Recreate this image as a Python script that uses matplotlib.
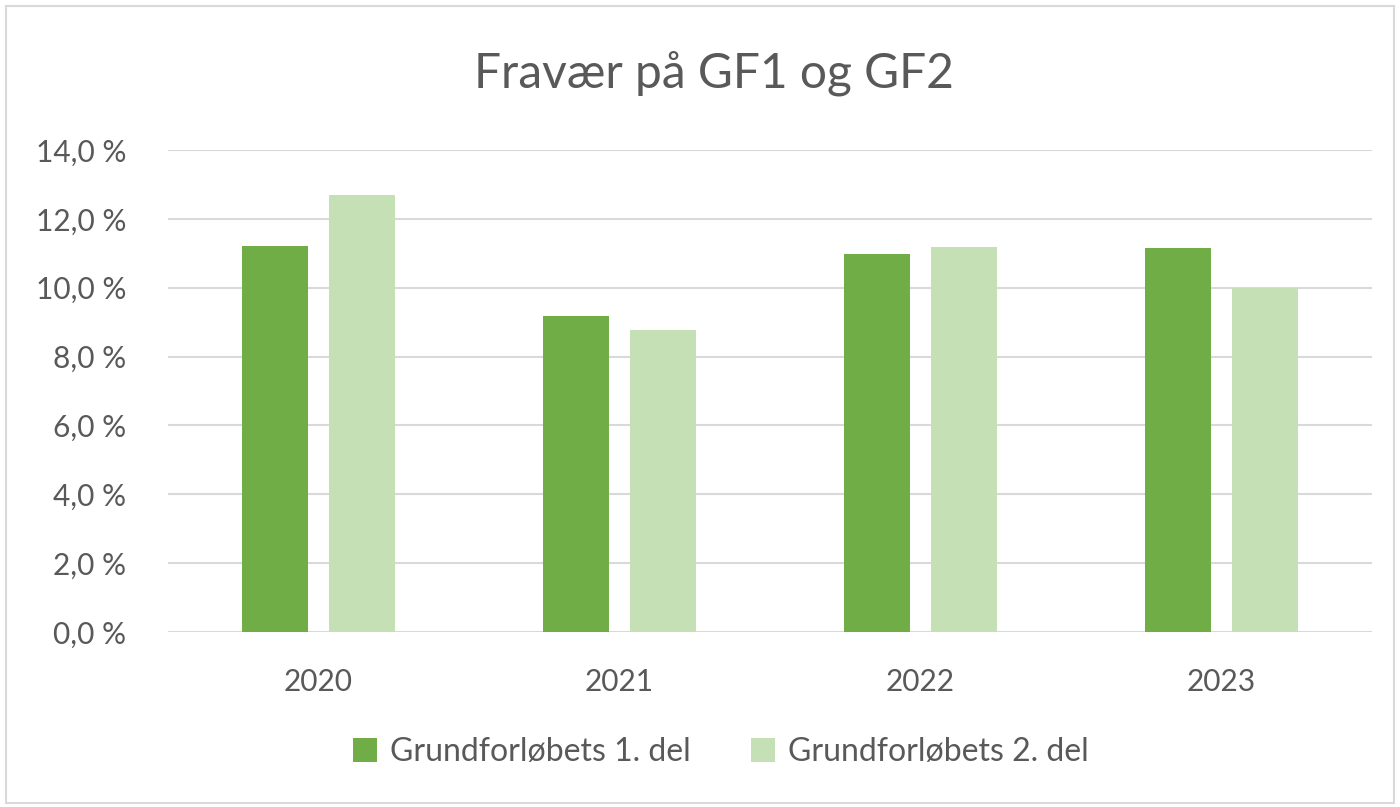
import matplotlib.pyplot as plt
import numpy as np
from matplotlib.patches import Rectangle

years = ["2020", "2021", "2022", "2023"]
del1 = [11.21, 9.18, 10.98, 11.15]
del2 = [12.69, 8.77, 11.18, 9.99]
series_names = ["Grundforløbets 1. del", "Grundforløbets 2. del"]

plt.rcParams['font.family'] = ['Lato', 'DejaVu Sans']
txt = '#595959'

fig = plt.figure(figsize=(14, 8.07), dpi=100)
ax = fig.add_axes([168 / 1400, 1 - 632 / 807, (1372 - 168) / 1400, (632 - 150) / 807])

x = np.arange(len(years))
w = 0.219
off = 0.143
ax.bar(x - off, del1, w, color='#70AD47', label=series_names[0], zorder=3)
ax.bar(x + off, del2, w, color='#C5E0B4', label=series_names[1], zorder=3)

ax.set_xlim(-0.5, 3.5)
ax.set_ylim(0, 14)
ax.set_yticks(np.arange(0, 15, 2))
ax.set_yticklabels([f"{v:.1f} %".replace('.', ',') for v in np.arange(0, 15, 2)])
ax.set_xticks(x)
ax.set_xticklabels(years)
ax.grid(axis='y', color='#D9D9D9', linewidth=1.5, zorder=0)
for s in ax.spines.values():
    s.set_visible(False)
ax.tick_params(length=0, labelsize=21.5, colors=txt)
ax.tick_params(axis='y', pad=30)
ax.tick_params(axis='x', pad=26)

fig.text(714 / 1400, 1 - 73 / 807, "Fravær på GF1 og GF2", ha='center', va='center',
         fontsize=34.5, color=txt)

leg = fig.legend(loc='center', bbox_to_anchor=(721 / 1400, 1 - 752 / 807), ncol=2,
                 frameon=False, fontsize=23, handlelength=0.75, handleheight=0.75,
                 handletextpad=0.4, columnspacing=1.9)
for t in leg.get_texts():
    t.set_color(txt)

fig.patches.append(Rectangle((6 / 1400, 4 / 807), 1 - 12 / 1400, 1 - 10 / 807,
                             transform=fig.transFigure, fill=False,
                             edgecolor='#D9D9D9', linewidth=1.5))

fig.savefig("out.png", dpi=100)
